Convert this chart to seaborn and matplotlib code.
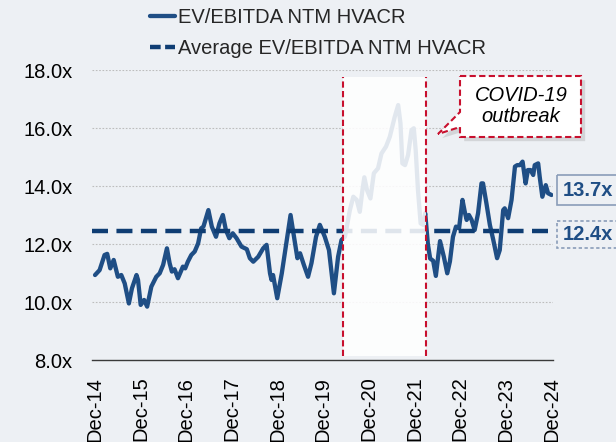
import numpy as np
import pandas as pd
import matplotlib
matplotlib.use("Agg")
import matplotlib.pyplot as plt
import matplotlib.transforms as mtransforms
import matplotlib.patheffects as pe
from matplotlib.patches import Polygon, Rectangle
import seaborn as sns

# ---------------- data ----------------
# months since Dec-14 and EV/EBITDA NTM multiple
months = [0, 1.2, 2.5, 3.2, 4.0, 4.9, 6.0, 6.9, 7.8, 8.9, 9.7, 10.9, 11.3, 12.0, 12.9,
          13.7, 14.8, 16.1, 17.0, 17.9, 18.9, 19.6, 20.2, 20.9, 21.8, 23.1, 23.7, 24.4,
          25.3, 26.2, 27.1, 27.9, 28.5, 29.8, 30.7, 31.8, 32.7, 33.6, 34.4, 35.3, 36.2,
          37.2, 38.5, 39.9, 40.7, 41.6, 42.9, 44.2, 45.1, 46.0, 46.4, 46.8, 47.9, 49.1,
          50.4, 51.4, 52.3, 53.2, 53.9, 54.9, 56.0, 56.9, 58.1, 59.1, 60.4, 61.5, 62.8,
          63.9, 64.8, 65.7, 67.0, 67.9, 68.8, 69.6, 70.3, 70.8, 71.5, 72.4, 73.3, 74.4,
          75.3, 76.5, 77.5, 78.8, 79.7, 80.3, 80.8, 81.5, 82.3, 83.2, 83.8, 84.3, 84.9,
          85.6, 86.3, 86.8, 87.5, 88.1, 88.9, 89.6, 90.7, 91.7, 92.6, 93.3, 94.1, 94.9,
          95.7, 96.6, 97.2, 97.7, 98.3, 99.0, 99.8, 100.7, 101.6, 102.0, 102.9, 103.8,
          104.7, 105.7, 106.4, 107.3, 107.7, 108.6, 109.5, 110.4, 111.0, 111.7, 112.4,
          113.2, 113.8, 114.5, 115.2, 115.6, 116.5, 116.9, 117.6, 118.5, 119.1, 120.0]
values = [10.93, 11.10, 11.62, 11.66, 11.16, 11.45, 10.87, 10.93, 10.64, 9.95, 10.47,
          10.93, 10.76, 9.90, 10.07, 9.84, 10.53, 10.87, 10.99, 11.28, 11.85, 11.34,
          11.05, 11.13, 10.82, 11.22, 11.16, 11.39, 11.62, 11.74, 12.02, 12.54, 12.60,
          13.17, 12.60, 12.25, 12.71, 13.00, 12.48, 12.20, 12.37, 12.20, 11.91, 11.82,
          11.51, 11.39, 11.56, 11.85, 11.97, 10.99, 10.76, 10.93, 10.13, 10.99, 12.14,
          13.00, 12.25, 11.51, 11.68, 11.28, 10.87, 11.34, 12.25, 12.66, 12.25, 11.79,
          10.30, 11.56, 12.14, 12.25, 13.17, 13.63, 13.52, 13.11, 13.86, 14.30, 13.86,
          13.57, 14.44, 14.61, 15.12, 15.36, 15.70, 16.39, 16.79, 16.16, 14.78, 14.72,
          15.07, 15.93, 15.99, 15.24, 13.86, 12.71, 12.66, 13.06, 12.00, 11.50, 11.42,
          10.90, 12.10, 11.56, 10.99, 11.40, 12.25, 12.60, 12.54, 13.52, 13.11, 12.83,
          13.00, 12.83, 12.48, 13.06, 14.09, 14.09, 13.40, 12.66, 12.14, 11.51, 11.79,
          13.17, 13.23, 12.89, 13.52, 14.67, 14.72, 14.72, 14.84, 14.09, 14.55, 14.55,
          14.38, 14.72, 14.78, 14.32, 13.63, 14.03, 13.75, 13.69]
avg_value = 12.44
last_label = "13.7x"
avg_label = "12.4x"
tick_months = [0, 12, 24, 36, 48, 60, 72, 84, 96, 108, 120]
tick_labels = ["Dec-14", "Dec-15", "Dec-16", "Dec-17", "Dec-18", "Dec-19",
               "Dec-20", "Dec-21", "Dec-22", "Dec-23", "Dec-24"]
yticks = [8, 10, 12, 14, 16, 18]
covid_start, covid_end = 65.1, 86.9
series_name = "EV/EBITDA NTM HVACR"
avg_name = "Average EV/EBITDA NTM HVACR"
callout_text = "COVID-19\noutbreak"

# ---------------- style ----------------
BG = "#EDF0F4"
LINE = "#1F4E85"
AVG = "#0F3D73"
RED = "#C8102E"
BOXEDGE = "#8A9DB8"
FS = 14.5

sns.set_theme(style="white")
plt.rcParams["font.family"] = ["Liberation Sans", "DejaVu Sans"]

W, H = 616, 442
fig = plt.figure(figsize=(W / 100, H / 100), dpi=100, facecolor=BG)
ax = fig.add_axes([92 / W, 1 - 360 / H, (553 - 92) / W, (360 - 70) / H])
ax.set_facecolor(BG)

xmin, xmax = -0.8, 120.4
df = pd.DataFrame({"month": months, "value": values})
sns.lineplot(data=df, x="month", y="value", ax=ax, color=LINE, lw=3.1,
             label=series_name, legend=False, zorder=3)
avg_df = pd.DataFrame({"month": [xmin, 120.0], "value": [avg_value, avg_value]})
sns.lineplot(data=avg_df, x="month", y="value", ax=ax, color=AVG, lw=3.2,
             linestyle=(0, (3.6, 1.9)), label=avg_name, legend=False, zorder=3)

ax.set_xlim(xmin, xmax)
ax.set_ylim(8, 18)
ax.set_yticks(yticks)
ax.set_yticklabels([f"{v:.1f}x" for v in yticks], fontsize=FS, color="black")
ax.set_xticks(tick_months)
ax.set_xticklabels(tick_labels, rotation=90, fontsize=FS, color="black")
ax.tick_params(axis="y", length=0, pad=14)
ax.tick_params(axis="x", length=0, pad=12)
ax.set_xlabel("")
ax.set_ylabel("")
for s in ["top", "right", "left"]:
    ax.spines[s].set_visible(False)
ax.spines["bottom"].set_color("#3A3A3A")
ax.spines["bottom"].set_linewidth(1.0)
for v in yticks[1:]:
    ax.axhline(v, color="#BDBDBD", lw=0.8, linestyle=(0, (1.5, 1.5)), zorder=1)

# COVID shaded region (white veil over the lines)
ax.add_patch(Rectangle((covid_start, 8.14), covid_end - covid_start, 17.77 - 8.14,
                       facecolor="white", edgecolor="none", alpha=0.87, zorder=5))
for xv in (covid_start, covid_end):
    ax.plot([xv, xv], [8.14, 17.77], color=RED, lw=1.5,
            linestyle=(0, (3, 1.6)), zorder=6)

# pixel transform helper
pix = mtransforms.Affine2D().scale(1 / W, -1 / H).translate(0, 1) + fig.transFigure

# callout
callout = Polygon([(460, 76), (581, 76), (581, 137), (460, 137), (460, 127),
                   (438, 134), (460, 112)], closed=True, transform=pix,
                  facecolor="white", edgecolor=RED, lw=1.5, linestyle=(0, (3, 1.6)),
                  zorder=10)
callout.set_path_effects([pe.SimplePatchShadow(offset=(3, -3), alpha=0.25,
                                               shadow_rgbFace="#888888"),
                          pe.Normal()])
fig.add_artist(callout)
fig.text(521 / W, 1 - 106 / H, callout_text, ha="center", va="center",
         fontsize=FS, style="italic", color="black", linespacing=1.15, zorder=11)

# value labels at right
fig.add_artist(Rectangle((557, 175), 70, 30, transform=pix, facecolor="none",
                         edgecolor=BOXEDGE, lw=1.2))
fig.add_artist(Rectangle((557, 221), 70, 27, transform=pix, facecolor="none",
                         edgecolor=BOXEDGE, lw=1.2, linestyle=(0, (2, 1.5))))
fig.text(563 / W, 1 - 190 / H, last_label, ha="left", va="center",
         fontsize=FS, fontweight="bold", color=LINE)
fig.text(563 / W, 1 - 234.5 / H, avg_label, ha="left", va="center",
         fontsize=FS, fontweight="bold", color=LINE)

# legend
handles, labels = ax.get_legend_handles_labels()
leg = fig.legend(handles, labels, loc="upper left",
                 bbox_to_anchor=(150 / W, 1 - 8 / H), frameon=False,
                 fontsize=FS, handlelength=1.25, handletextpad=0.15,
                 labelspacing=0.62, borderpad=0, borderaxespad=0)
leg.legend_handles[1].set_linestyle((0, (2.4, 1.0)))

fig.savefig("out.png", dpi=100, facecolor=BG)
